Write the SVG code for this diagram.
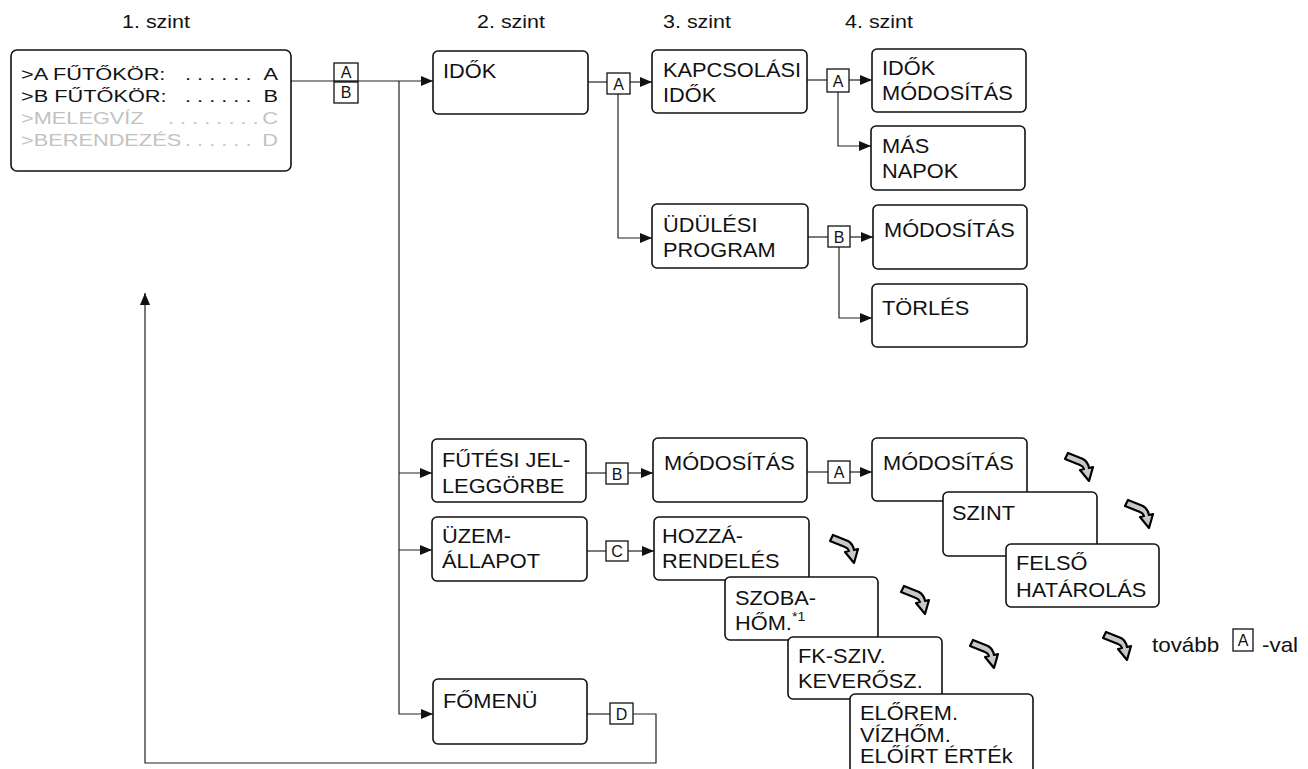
<svg xmlns="http://www.w3.org/2000/svg" xmlns:xlink="http://www.w3.org/1999/xlink" width="1308" height="769" viewBox="0 0 1308 769">
<style>
  text { font-family: "Liberation Sans", Arial, sans-serif; fill: #111; }
  .t { font-size: 20px; }
  .h { font-size: 18px; text-anchor: middle; }
  .m { font-size: 17px; }
  .g { font-size: 17px; fill: #c2c2c2; }
  .k { font-size: 16px; text-anchor: middle; }
  .box { fill: #fff; stroke: #111; stroke-width: 1.6; }
  .key { fill: #fff; stroke: #111; stroke-width: 1.3; }
  .ln { fill: none; stroke: #222; stroke-width: 1.2; }
  .ar { marker-end: url(#ah); }
  .nx { fill: #c8c8c8; stroke: #000; stroke-width: 2.2; stroke-linejoin: round; }
</style>
<defs>
  <marker id="ah" markerUnits="userSpaceOnUse" markerWidth="13" markerHeight="11" refX="12" refY="5" orient="auto">
    <path d="M0,0 L12,5 L0,10 Z" fill="#111"/>
  </marker>
  <g id="next">
    <path class="nx" d="M3,0 L18,6 Q23,9 24,15 L28,14 L24,28 L15,17 L19,16 Q18,13 15,12 L0,6 Z"/>
  </g>
</defs>
<rect width="1308" height="769" fill="#fff"/>

<!-- level headers -->
<g id="headers">
  <text class="h" transform="translate(156 28) scale(1.19 1)">1. szint</text>
  <text class="h" transform="translate(511 28) scale(1.19 1)">2. szint</text>
  <text class="h" transform="translate(697 28) scale(1.19 1)">3. szint</text>
  <text class="h" transform="translate(879 28) scale(1.19 1)">4. szint</text>
</g>

<!-- connectors -->
<g id="connectors">
  <path class="ln ar" d="M291,81 H433"/>
  <path class="ln ar" d="M399,81 V714 H433"/>
  <path class="ln ar" d="M399,473 H432"/>
  <path class="ln ar" d="M399,550 H432"/>

  <path class="ln" d="M588,82 H607"/>
  <path class="ln ar" d="M630,82 H652"/>
  <path class="ln ar" d="M618,94 V238 H652"/>

  <path class="ln" d="M807,80 H827"/>
  <path class="ln ar" d="M849,80 H872"/>
  <path class="ln ar" d="M838,92 V146 H871"/>

  <path class="ln" d="M808,237 H828"/>
  <path class="ln ar" d="M850,237 H873"/>
  <path class="ln ar" d="M839,247 V318 H872"/>

  <path class="ln" d="M586,473 H606"/>
  <path class="ln ar" d="M628,473 H653"/>

  <path class="ln" d="M807,472 H828"/>
  <path class="ln ar" d="M850,472 H872"/>

  <path class="ln" d="M587,551 H606"/>
  <path class="ln ar" d="M628,551 H654"/>

  <path class="ln" d="M587,714 H610"/>
  <path class="ln ar" d="M633,714 H656 V763 H145 V293"/>
</g>

<!-- keys -->
<g id="keys">
  <rect class="key" x="334" y="63" width="24" height="18"/><text class="k" x="346" y="78">A</text>
  <rect class="key" x="334" y="82" width="24" height="21"/><text class="k" x="346" y="98">B</text>
  <rect class="key" x="607" y="73" width="23" height="21"/><text class="k" x="618.5" y="89.5">A</text>
  <rect class="key" x="827" y="69" width="22" height="23"/><text class="k" x="838" y="86.5">A</text>
  <rect class="key" x="828" y="226" width="22" height="21"/><text class="k" x="839" y="242.5">B</text>
  <rect class="key" x="606" y="463" width="22" height="21"/><text class="k" x="617" y="479.5">B</text>
  <rect class="key" x="828" y="461" width="22" height="22"/><text class="k" x="839" y="478">A</text>
  <rect class="key" x="606" y="541" width="22" height="20"/><text class="k" x="617" y="557">C</text>
  <rect class="key" x="610" y="703" width="23" height="21"/><text class="k" x="621.5" y="719.5">D</text>
</g>

<!-- level 1 -->
<g id="n-main">
  <rect class="box" x="11" y="50" width="280" height="121" rx="6"/>
  <text class="m" transform="translate(21 80) scale(1.28 1)">&gt;A FŰTŐKÖR:</text>
  <text class="m" transform="translate(185 80) scale(1.28 1)">. . . . . .</text>
  <text class="m" text-anchor="end" transform="translate(278 80) scale(1.28 1)">A</text>
  <text class="m" transform="translate(21 102) scale(1.28 1)">&gt;B FŰTŐKÖR:</text>
  <text class="m" transform="translate(185 102) scale(1.28 1)">. . . . . .</text>
  <text class="m" text-anchor="end" transform="translate(278 102) scale(1.28 1)">B</text>
  <text class="g" transform="translate(21 124) scale(1.28 1)">&gt;MELEGVÍZ</text>
  <text class="g" transform="translate(168 124) scale(1.28 1)">. . . . . . . .</text>
  <text class="g" text-anchor="end" transform="translate(278 124) scale(1.28 1)">C</text>
  <text class="g" transform="translate(21 146) scale(1.28 1)">&gt;BERENDEZÉS</text>
  <text class="g" transform="translate(185 146) scale(1.28 1)">. . . . . .</text>
  <text class="g" text-anchor="end" transform="translate(278 146) scale(1.28 1)">D</text>
</g>

<!-- level 2 -->
<g id="n-idok">
  <rect class="box" x="433" y="51" width="155" height="63" rx="5"/>
  <text class="t" transform="translate(443 78) scale(1.09 1)">IDŐK</text>
</g>
<g id="n-futesi">
  <rect class="box" x="432" y="439" width="154" height="63" rx="5"/>
  <text class="t" transform="translate(442 467) scale(1.09 1)">FŰTÉSI JEL-<tspan x="0" dy="26">LEGGÖRBE</tspan></text>
</g>
<g id="n-uzem">
  <rect class="box" x="432" y="517" width="155" height="64" rx="5"/>
  <text class="t" transform="translate(442 543) scale(1.09 1)">ÜZEM-<tspan x="0" dy="25">ÁLLAPOT</tspan></text>
</g>
<g id="n-fomenu">
  <rect class="box" x="433" y="679" width="154" height="65" rx="5"/>
  <text class="t" transform="translate(443 708) scale(1.09 1)">FŐMENÜ</text>
</g>

<!-- level 3 -->
<g id="n-kapcs">
  <rect class="box" x="652" y="50" width="155" height="63" rx="5"/>
  <text class="t" transform="translate(663 77) scale(1.09 1)">KAPCSOLÁSI<tspan x="0" dy="25">IDŐK</tspan></text>
</g>
<g id="n-udulesi">
  <rect class="box" x="652" y="204" width="156" height="64" rx="5"/>
  <text class="t" transform="translate(663 232) scale(1.09 1)">ÜDÜLÉSI<tspan x="0" dy="25">PROGRAM</tspan></text>
</g>
<g id="n-mod3">
  <rect class="box" x="653" y="438" width="154" height="64" rx="5"/>
  <text class="t" transform="translate(664 470) scale(1.09 1)">MÓDOSÍTÁS</text>
</g>
<g id="n-hozza">
  <rect class="box" x="654" y="517" width="155" height="63" rx="5"/>
  <text class="t" transform="translate(662 543) scale(1.09 1)">HOZZÁ-<tspan x="0" dy="25">RENDELÉS</tspan></text>
</g>
<g id="n-szoba">
  <rect class="box" x="725" y="577" width="153" height="63" rx="5"/>
  <text class="t" transform="translate(735 605) scale(1.09 1)">SZOBA-<tspan x="0" dy="25">HŐM.</tspan><tspan font-size="13" dy="-9">*1</tspan></text>
</g>
<g id="n-fkszív">
  <rect class="box" x="788" y="637" width="154" height="62" rx="5"/>
  <text class="t" transform="translate(798 663) scale(1.09 1)">FK-SZIV.<tspan x="0" dy="25">KEVERŐSZ.</tspan></text>
</g>
<g id="n-elorem">
  <rect class="box" x="850" y="694" width="183" height="90" rx="5"/>
  <text class="t" transform="translate(860 720) scale(1.09 1)">ELŐREM.<tspan x="0" dy="22">VÍZHŐM.</tspan><tspan x="0" dy="21">ELŐÍRT ÉRTÉk</tspan></text>
</g>

<!-- level 4 -->
<g id="n-idokmod">
  <rect class="box" x="872" y="49" width="154" height="63" rx="5"/>
  <text class="t" transform="translate(882 75) scale(1.09 1)">IDŐK<tspan x="0" dy="25">MÓDOSÍTÁS</tspan></text>
</g>
<g id="n-masnapok">
  <rect class="box" x="871" y="126" width="154" height="64" rx="5"/>
  <text class="t" transform="translate(882 153) scale(1.09 1)">MÁS<tspan x="0" dy="25">NAPOK</tspan></text>
</g>
<g id="n-mod4a">
  <rect class="box" x="873" y="205" width="154" height="64" rx="5"/>
  <text class="t" transform="translate(884 237) scale(1.09 1)">MÓDOSÍTÁS</text>
</g>
<g id="n-torles">
  <rect class="box" x="872" y="284" width="155" height="63" rx="5"/>
  <text class="t" transform="translate(882 315) scale(1.09 1)">TÖRLÉS</text>
</g>
<g id="n-mod4b">
  <rect class="box" x="872" y="438" width="155" height="63" rx="5"/>
  <text class="t" transform="translate(883 470) scale(1.09 1)">MÓDOSÍTÁS</text>
</g>
<g id="n-szint">
  <rect class="box" x="943" y="492" width="154" height="64" rx="5"/>
  <text class="t" transform="translate(952 520) scale(1.09 1)">SZINT</text>
</g>
<g id="n-felso">
  <rect class="box" x="1006" y="544" width="153" height="63" rx="5"/>
  <text class="t" transform="translate(1016 570) scale(1.09 1)">FELSŐ<tspan x="0" dy="27">HATÁROLÁS</tspan></text>
</g>

<!-- "next" arrows -->
<g id="next-arrows">
  <use xlink:href="#next" href="#next" x="1065" y="453"/>
  <use xlink:href="#next" href="#next" x="1125" y="500"/>
  <use xlink:href="#next" href="#next" x="830" y="535"/>
  <use xlink:href="#next" href="#next" x="901" y="586"/>
  <use xlink:href="#next" href="#next" x="970" y="640"/>
</g>

<!-- legend -->
<g id="legend">
  <use xlink:href="#next" href="#next" x="1103" y="632"/>
  <text class="t" transform="translate(1152 652) scale(1.12 1)">tovább</text>
  <rect class="key" x="1233" y="629" width="20" height="22"/>
  <text class="k" x="1243" y="646">A</text>
  <text class="t" transform="translate(1262 652) scale(1.12 1)">-val</text>
</g>
</svg>
